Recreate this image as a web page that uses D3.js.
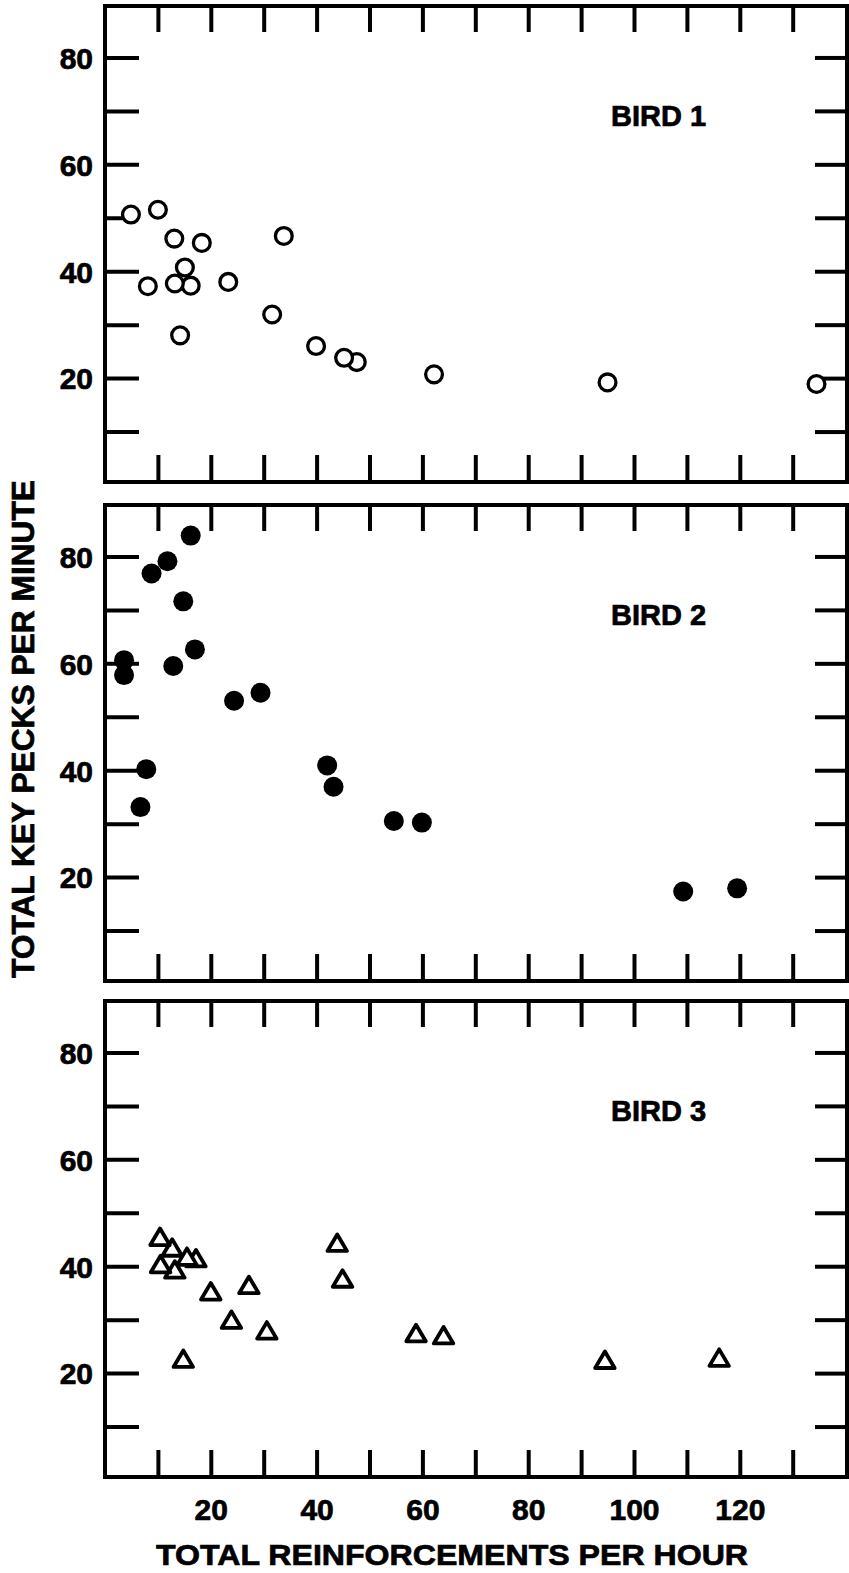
<!DOCTYPE html>
<html><head><meta charset="utf-8">
<script src="https://cdn.jsdelivr.net/npm/d3@7"></script>
<style>body{margin:0;background:#fff}svg{display:block}text{font-family:"Liberation Sans",Arial,sans-serif;font-weight:bold;fill:#000;stroke:#000;stroke-width:0.7px}</style>
</head><body><svg id="c" width="849" height="1573"></svg>
<script>
// ---- data ----
const panelNames = ["BIRD 1", "BIRD 2", "BIRD 3"];
const bird1X = [16.2, 47.6, 4.9, 10.0, 13.1, 18.3, 15.1, 8.1, 13.2, 23.3, 33.8, 14.2, 31.6, 39.9, 45.2, 62.2, 95.0, 134.5];
const bird1Y = [37.3, 23.0, 50.6, 51.5, 46.1, 45.3, 40.7, 37.2, 37.7, 38.0, 46.6, 28.0, 31.9, 26.0, 23.8, 20.7, 19.2, 18.9];
const bird2X = [16.2, 11.8, 8.8, 14.8, 17.0, 12.9, 3.6, 3.6, 24.4, 29.4, 7.8, 6.7, 42.0, 43.2, 54.6, 59.9, 109.3, 119.5];
const bird2Y = [83.9, 79.1, 76.8, 71.6, 62.6, 59.5, 60.6, 57.8, 53.0, 54.5, 40.2, 33.1, 40.9, 36.9, 30.5, 30.2, 17.3, 17.9];
const bird3X = [17.2, 15.5, 12.7, 13.2, 10.4, 10.5, 20.0, 27.2, 23.9, 30.6, 14.8, 43.9, 44.9, 58.8, 64.0, 94.5, 116.1];
const bird3Y = [41.5, 41.8, 43.5, 39.4, 45.5, 40.4, 35.3, 36.5, 30.0, 28.0, 22.7, 44.4, 37.7, 27.5, 27.1, 22.5, 22.9];
const xTicks = [10, 20, 30, 40, 50, 60, 70, 80, 90, 100, 110, 120, 130];
const yTicks = [10, 20, 30, 40, 50, 60, 70, 80];
const xTickLabels = [20, 40, 60, 80, 100, 120];
const yTickLabels = [20, 40, 60, 80];
const xTitle = "TOTAL REINFORCEMENTS PER HOUR";
const yTitle = "TOTAL KEY PECKS PER MINUTE";

// ---- layout ----
const svg = d3.select("#c");
const left = 105, right = 847, frameH = 476;
const tops = [6, 505, 1001];
const markers = ["openCircle", "dot", "triangle"];
const series = [[bird1X, bird1Y], [bird2X, bird2Y], [bird3X, bird3Y]];
const x = d3.scaleLinear().domain([0, 140]).range([left, left + 5.29 * 140]);

const triPath = (w, h) => `M0,${-h / 2}L${w / 2},${h / 2}L${-w / 2},${h / 2}Z`;

tops.forEach((top, i) => {
  const bottom = top + frameH;
  const y = d3.scaleLinear().domain([0, 90]).range([top + 479, top - 2]);
  const g = svg.append("g");

  const styleTicks = sel => {
    sel.select(".domain").remove();
    sel.selectAll(".tick line").attr("stroke", "#000").attr("stroke-width", 4);
  };
  g.append("g").attr("transform", `translate(0,${bottom})`)
    .call(d3.axisTop(x).tickValues(xTicks).tickSize(27).tickFormat("")).call(styleTicks);
  g.append("g").attr("transform", `translate(0,${top})`)
    .call(d3.axisBottom(x).tickValues(xTicks).tickSize(26).tickFormat("")).call(styleTicks);
  g.append("g").attr("transform", `translate(${left},0)`)
    .call(d3.axisRight(y).tickValues(yTicks).tickSize(34).tickFormat("")).call(styleTicks);
  g.append("g").attr("transform", `translate(${right},0)`)
    .call(d3.axisLeft(y).tickValues(yTicks).tickSize(32).tickFormat("")).call(styleTicks);

  // y tick labels
  const yl = g.append("g").attr("transform", `translate(${left},0)`)
    .call(d3.axisLeft(y).tickValues(yTickLabels).tickSize(0).tickPadding(12).tickFormat(d3.format("d")));
  yl.select(".domain").remove();
  yl.selectAll("text").attr("font-size", 30).attr("font-family", null).attr("fill", null).attr("dy", "0.36em");

  g.append("rect").attr("x", left).attr("y", top).attr("width", right - left).attr("height", frameH)
    .attr("fill", "none").attr("stroke", "#000").attr("stroke-width", 4);

  g.append("text").attr("x", 611).attr("y", top + 120).attr("font-size", 29).text(panelNames[i]);

  const [xs, ys] = series[i];
  const pts = xs.map((v, k) => [v, ys[k]]);
  const pg = g.append("g");
  if (markers[i] === "openCircle") {
    pg.selectAll("circle").data(pts).join("circle")
      .attr("cx", d => x(d[0])).attr("cy", d => y(d[1])).attr("r", 8.4)
      .attr("fill", "#fff").attr("stroke", "#000").attr("stroke-width", 3.3);
  } else if (markers[i] === "dot") {
    pg.selectAll("circle").data(pts).join("circle")
      .attr("cx", d => x(d[0])).attr("cy", d => y(d[1])).attr("r", 10).attr("fill", "#000");
  } else {
    pg.selectAll("path").data(pts).join("path")
      .attr("d", triPath(19.5, 16.5))
      .attr("transform", d => `translate(${x(d[0])},${y(d[1])})`)
      .attr("fill", "#fff").attr("stroke", "#000").attr("stroke-width", 3.8).attr("stroke-linejoin", "round");
  }

  if (i === 2) {
    const xl = g.append("g").attr("transform", `translate(0,${bottom})`)
      .call(d3.axisBottom(x).tickValues(xTickLabels).tickSize(0).tickPadding(22).tickFormat(d3.format("d")));
    xl.select(".domain").remove();
    xl.selectAll("text").attr("font-size", 30).attr("font-family", null).attr("fill", null);
  }
});

svg.append("text").attr("x", 452).attr("y", 1565).attr("text-anchor", "middle")
  .attr("font-size", 30).attr("textLength", 592).attr("lengthAdjust", "spacingAndGlyphs").text(xTitle);
svg.append("text").attr("transform", "translate(34,729) rotate(-90)").attr("text-anchor", "middle")
  .attr("font-size", 31).attr("textLength", 498).attr("lengthAdjust", "spacingAndGlyphs").text(yTitle);
</script></body></html>
